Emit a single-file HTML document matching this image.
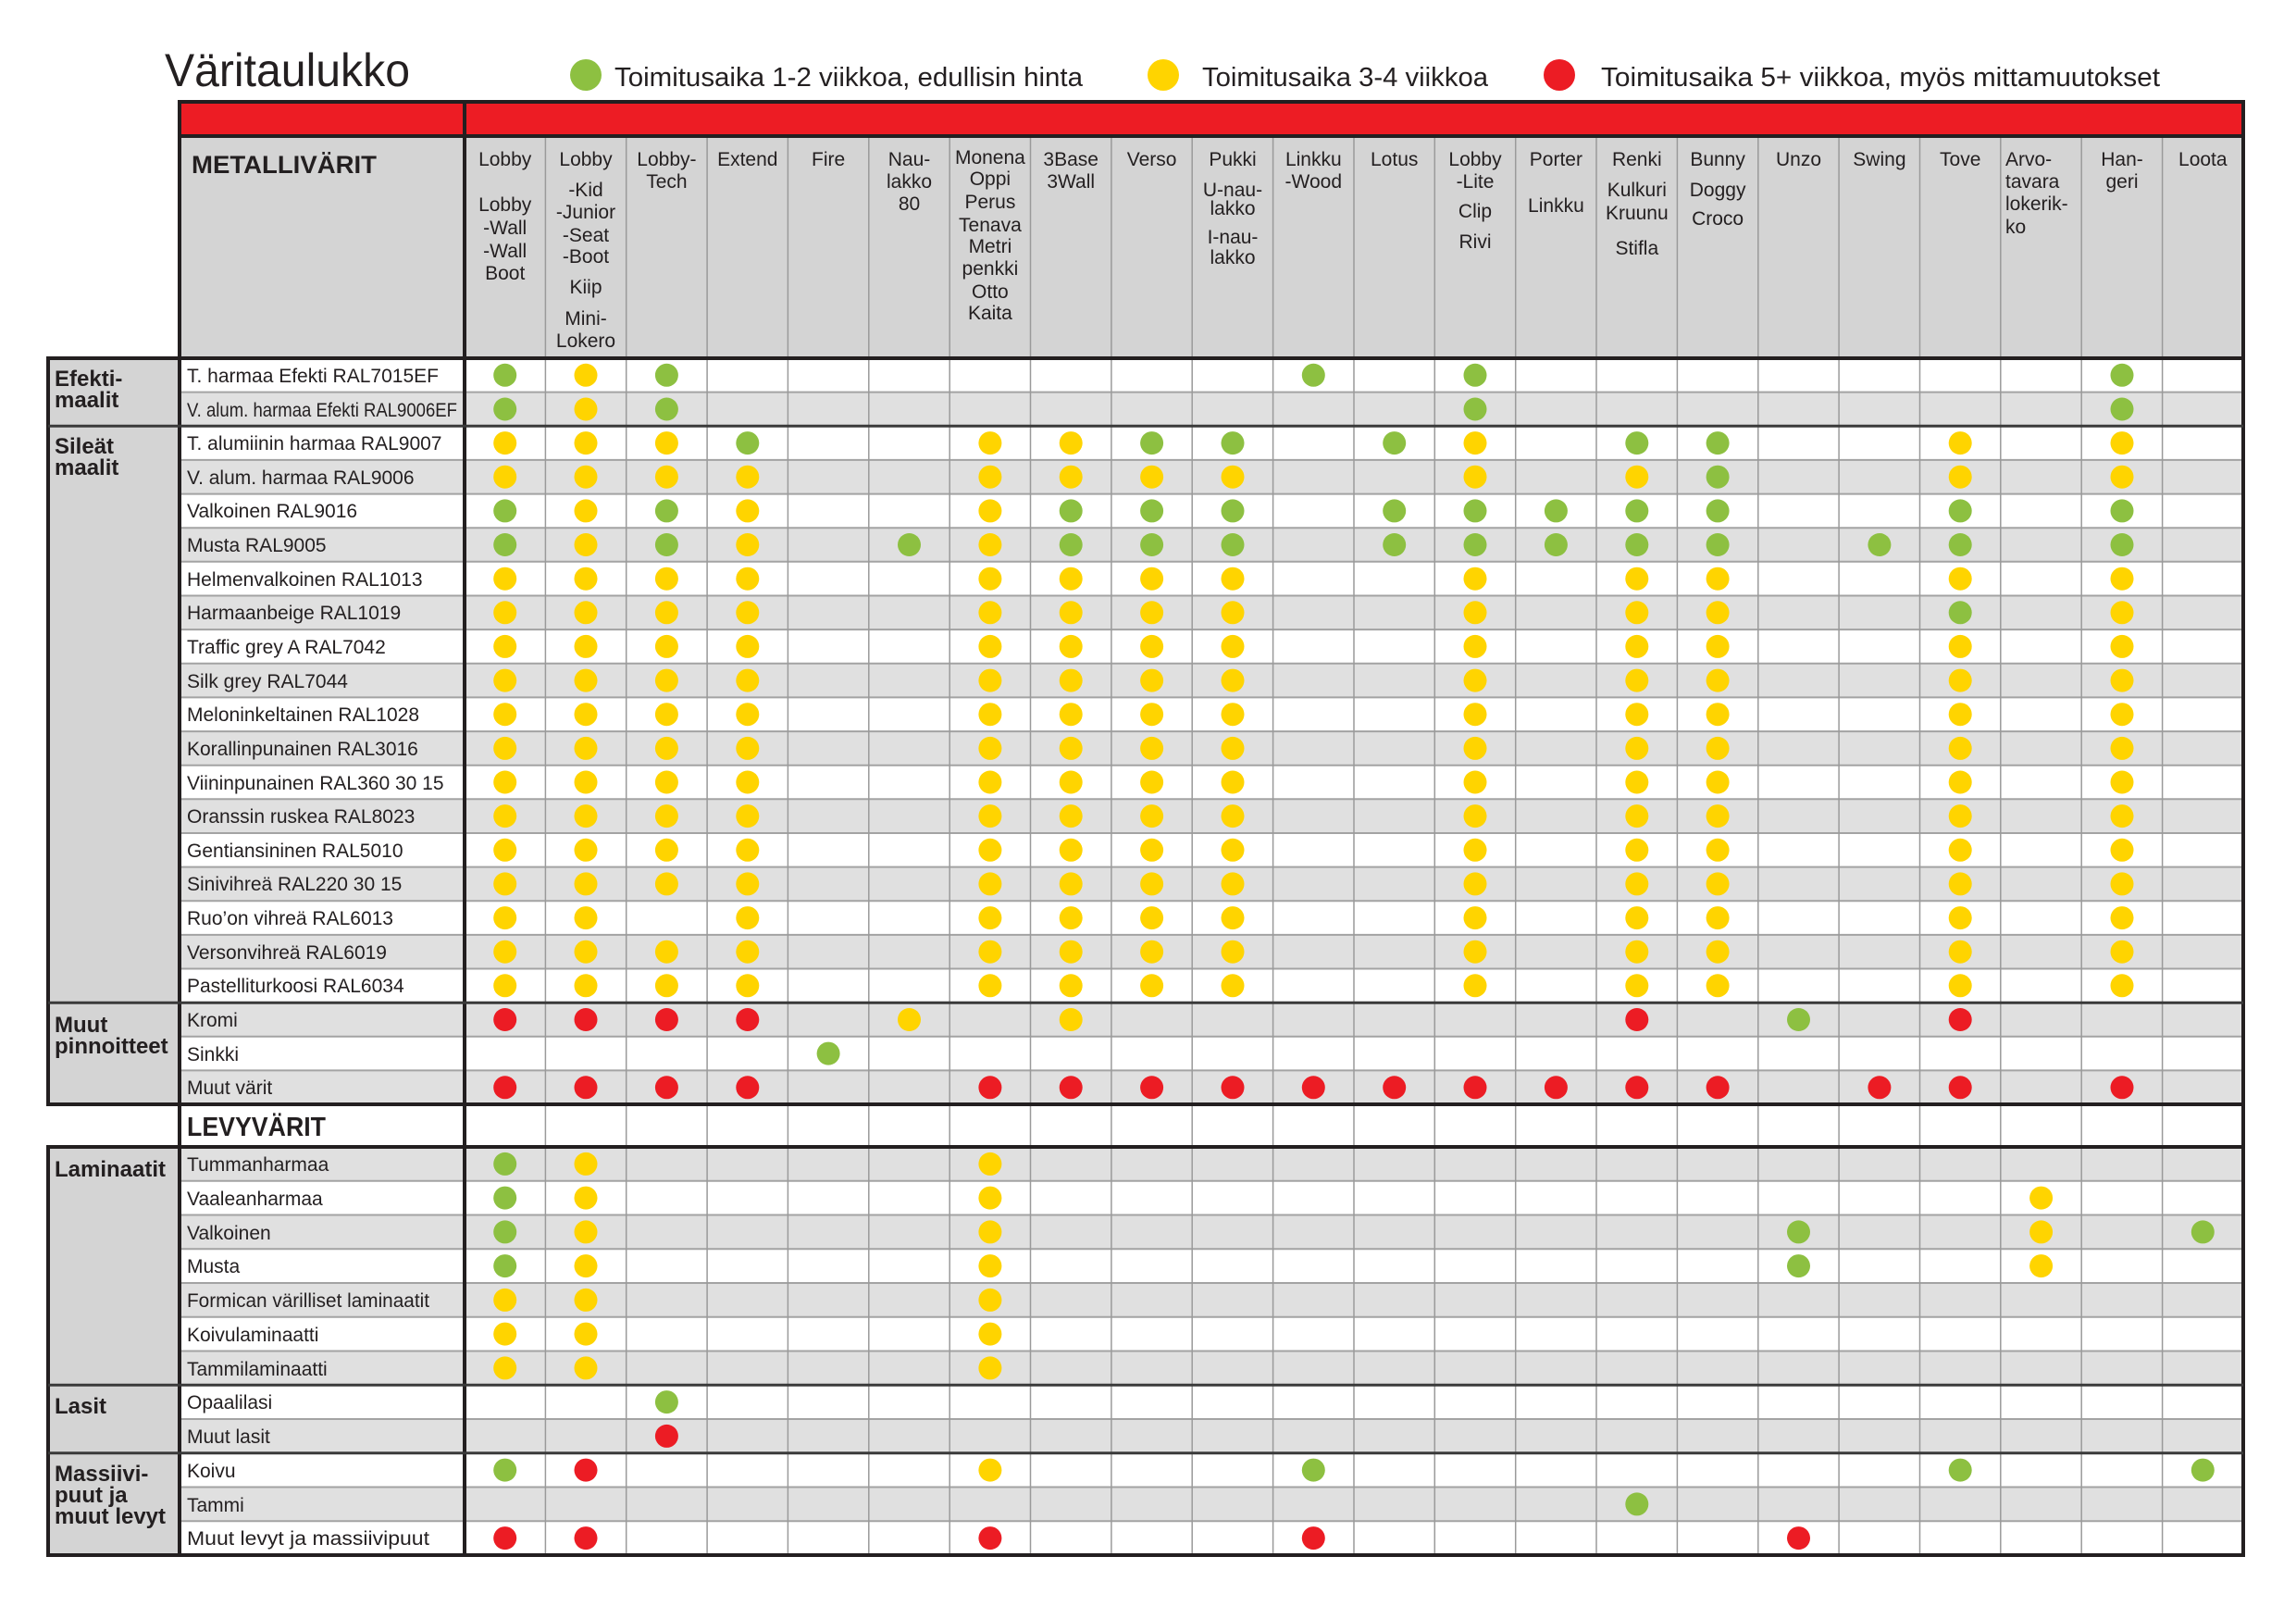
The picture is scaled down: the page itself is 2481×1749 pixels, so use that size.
<!DOCTYPE html>
<html><head><meta charset="utf-8"><style>
html,body{margin:0;padding:0;background:#fff}
svg{display:block}
text{font-family:"Liberation Sans",sans-serif;fill:#231f20}
.h{font-size:21px;text-anchor:middle}
.l{font-size:21px}
.c{font-size:24px;font-weight:bold}
</style></head><body>
<svg width="2481" height="1749" viewBox="0 0 2481 1749" xmlns="http://www.w3.org/2000/svg">
<defs>
<circle id="G" r="12.5" fill="#8dc041"/>
<circle id="Y" r="12.5" fill="#ffd400"/>
<circle id="R" r="12.5" fill="#ec1c24"/>
</defs>
<!-- title & legend -->
<text x="178" y="93" font-size="50" textLength="265" lengthAdjust="spacingAndGlyphs">Väritaulukko</text>
<circle cx="633" cy="81" r="17" fill="#8dc041"/>
<text x="664" y="93" font-size="29" textLength="506" lengthAdjust="spacingAndGlyphs">Toimitusaika 1-2 viikkoa, edullisin hinta</text>
<circle cx="1257" cy="81" r="17" fill="#ffd400"/>
<text x="1299" y="93" font-size="29" textLength="309" lengthAdjust="spacingAndGlyphs">Toimitusaika 3-4 viikkoa</text>
<circle cx="1685" cy="81" r="17" fill="#ec1c24"/>
<text x="1730" y="93" font-size="29" textLength="604" lengthAdjust="spacingAndGlyphs">Toimitusaika 5+ viikkoa, myös mittamuutokset</text>

<!-- red bar + header bg -->
<rect x="194" y="110" width="2230" height="37" fill="#ed1c24"/>
<rect x="194" y="147" width="2230" height="240" fill="#d4d4d4"/>
<!-- category column bg -->
<rect x="52" y="387" width="142" height="806" fill="#d4d4d4"/>
<rect x="52" y="1239" width="142" height="441" fill="#d4d4d4"/>
<!-- gray rows metal (odd k) -->
<g fill="#e0e0e0">
<rect x="194" y="423.6" width="2230" height="36.6"/>
<rect x="194" y="496.9" width="2230" height="36.6"/>
<rect x="194" y="570.2" width="2230" height="36.6"/>
<rect x="194" y="643.5" width="2230" height="36.6"/>
<rect x="194" y="716.8" width="2230" height="36.6"/>
<rect x="194" y="790.1" width="2230" height="36.6"/>
<rect x="194" y="863.3" width="2230" height="36.6"/>
<rect x="194" y="936.6" width="2230" height="36.6"/>
<rect x="194" y="1009.9" width="2230" height="36.6"/>
<rect x="194" y="1083.2" width="2230" height="36.6"/>
<rect x="194" y="1156.4" width="2230" height="36.6"/>
<!-- levy gray rows (even k) -->
<rect x="194" y="1239" width="2230" height="36.75"/>
<rect x="194" y="1312.5" width="2230" height="36.75"/>
<rect x="194" y="1386" width="2230" height="36.75"/>
<rect x="194" y="1459.5" width="2230" height="36.75"/>
<rect x="194" y="1533" width="2230" height="36.75"/>
<rect x="194" y="1606.5" width="2230" height="36.75"/>
</g>
<!-- horizontal thin lines -->
<g stroke="#a3a3a3" stroke-width="2">
<line x1="194" x2="2424" y1="423.6" y2="423.6"/>
<line x1="194" x2="2424" y1="496.9" y2="496.9"/>
<line x1="194" x2="2424" y1="533.6" y2="533.6"/>
<line x1="194" x2="2424" y1="570.2" y2="570.2"/>
<line x1="194" x2="2424" y1="606.8" y2="606.8"/>
<line x1="194" x2="2424" y1="643.5" y2="643.5"/>
<line x1="194" x2="2424" y1="680.1" y2="680.1"/>
<line x1="194" x2="2424" y1="716.8" y2="716.8"/>
<line x1="194" x2="2424" y1="753.4" y2="753.4"/>
<line x1="194" x2="2424" y1="790.1" y2="790.1"/>
<line x1="194" x2="2424" y1="826.7" y2="826.7"/>
<line x1="194" x2="2424" y1="863.3" y2="863.3"/>
<line x1="194" x2="2424" y1="900" y2="900"/>
<line x1="194" x2="2424" y1="936.6" y2="936.6"/>
<line x1="194" x2="2424" y1="973.3" y2="973.3"/>
<line x1="194" x2="2424" y1="1009.9" y2="1009.9"/>
<line x1="194" x2="2424" y1="1046.5" y2="1046.5"/>
<line x1="194" x2="2424" y1="1119.8" y2="1119.8"/>
<line x1="194" x2="2424" y1="1156.4" y2="1156.4"/>
<line x1="194" x2="2424" y1="1275.75" y2="1275.75"/>
<line x1="194" x2="2424" y1="1312.5" y2="1312.5"/>
<line x1="194" x2="2424" y1="1349.25" y2="1349.25"/>
<line x1="194" x2="2424" y1="1386" y2="1386"/>
<line x1="194" x2="2424" y1="1422.75" y2="1422.75"/>
<line x1="194" x2="2424" y1="1459.5" y2="1459.5"/>
<line x1="194" x2="2424" y1="1533" y2="1533"/>
<line x1="194" x2="2424" y1="1606.5" y2="1606.5"/>
<line x1="194" x2="2424" y1="1643.25" y2="1643.25"/>
</g>
<!-- vertical column lines -->
<g stroke="#9a9a9a" stroke-width="1.5">
<line x1="589.4" x2="589.4" y1="147" y2="1680"/>
<line x1="676.7" x2="676.7" y1="147" y2="1680"/>
<line x1="764.1" x2="764.1" y1="147" y2="1680"/>
<line x1="851.4" x2="851.4" y1="147" y2="1680"/>
<line x1="938.8" x2="938.8" y1="147" y2="1680"/>
<line x1="1026.2" x2="1026.2" y1="147" y2="1680"/>
<line x1="1113.5" x2="1113.5" y1="147" y2="1680"/>
<line x1="1200.9" x2="1200.9" y1="147" y2="1680"/>
<line x1="1288.2" x2="1288.2" y1="147" y2="1680"/>
<line x1="1375.6" x2="1375.6" y1="147" y2="1680"/>
<line x1="1463" x2="1463" y1="147" y2="1680"/>
<line x1="1550.3" x2="1550.3" y1="147" y2="1680"/>
<line x1="1637.7" x2="1637.7" y1="147" y2="1680"/>
<line x1="1725" x2="1725" y1="147" y2="1680"/>
<line x1="1812.4" x2="1812.4" y1="147" y2="1680"/>
<line x1="1899.8" x2="1899.8" y1="147" y2="1680"/>
<line x1="1987.1" x2="1987.1" y1="147" y2="1680"/>
<line x1="2074.5" x2="2074.5" y1="147" y2="1680"/>
<line x1="2161.8" x2="2161.8" y1="147" y2="1680"/>
<line x1="2249.2" x2="2249.2" y1="147" y2="1680"/>
<line x1="2336.6" x2="2336.6" y1="147" y2="1680"/>
</g>
<!-- thick lines -->
<g stroke="#231f20" stroke-width="4">
<line x1="192" x2="2426" y1="110" y2="110"/>
<line x1="192" x2="2426" y1="147" y2="147"/>
<line x1="50" x2="2426" y1="387" y2="387"/>
<line x1="50" x2="2426" y1="1193" y2="1193"/>
<line x1="50" x2="2426" y1="1239" y2="1239"/>
<line x1="50" x2="2426" y1="1680" y2="1680"/>
<line x1="52" x2="52" y1="387" y2="1193"/>
<line x1="52" x2="52" y1="1239" y2="1680"/>
<line x1="194" x2="194" y1="110" y2="1680"/>
<line x1="502" x2="502" y1="110" y2="1680"/>
<line x1="2424" x2="2424" y1="110" y2="1680"/>
</g>
<g stroke="#3a3a3a" stroke-width="3">
<line x1="52" x2="2424" y1="460.3" y2="460.3"/>
<line x1="52" x2="2424" y1="1083.2" y2="1083.2"/>
<line x1="52" x2="2424" y1="1496.25" y2="1496.25"/>
<line x1="52" x2="2424" y1="1569.75" y2="1569.75"/>
</g>

<!-- header texts -->
<text x="207" y="187" font-size="27" font-weight="bold" textLength="200" lengthAdjust="spacingAndGlyphs">METALLIVÄRIT</text>
<text x="202" y="1227" font-size="29" font-weight="bold" textLength="150" lengthAdjust="spacingAndGlyphs">LEVYVÄRIT</text>
<g class="hd">
<text class="h" x="545.7" y="179">Lobby</text>
<text class="h" x="545.7" y="228">Lobby</text>
<text class="h" x="545.7" y="253">-Wall</text>
<text class="h" x="545.7" y="278">-Wall</text>
<text class="h" x="545.7" y="302">Boot</text>
<text class="h" x="633" y="179">Lobby</text>
<text class="h" x="633" y="212">-Kid</text>
<text class="h" x="633" y="236">-Junior</text>
<text class="h" x="633" y="261">-Seat</text>
<text class="h" x="633" y="284">-Boot</text>
<text class="h" x="633" y="317">Kiip</text>
<text class="h" x="633" y="351">Mini-</text>
<text class="h" x="633" y="375">Lokero</text>
<text class="h" x="720.4" y="179">Lobby-</text>
<text class="h" x="720.4" y="203">Tech</text>
<text class="h" x="807.8" y="179">Extend</text>
<text class="h" x="895.1" y="179">Fire</text>
<text class="h" x="982.5" y="179">Nau-</text>
<text class="h" x="982.5" y="203">lakko</text>
<text class="h" x="982.5" y="227">80</text>
<text class="h" x="1069.9" y="177" font-size="20">Monena</text>
<text class="h" x="1069.9" y="200">Oppi</text>
<text class="h" x="1069.9" y="225">Perus</text>
<text class="h" x="1069.9" y="250">Tenava</text>
<text class="h" x="1069.9" y="273">Metri</text>
<text class="h" x="1069.9" y="297">penkki</text>
<text class="h" x="1069.9" y="322">Otto</text>
<text class="h" x="1069.9" y="345">Kaita</text>
<text class="h" x="1157.2" y="179">3Base</text>
<text class="h" x="1157.2" y="203">3Wall</text>
<text class="h" x="1244.6" y="179">Verso</text>
<text class="h" x="1332" y="179">Pukki</text>
<text class="h" x="1332" y="212">U-nau-</text>
<text class="h" x="1332" y="232">lakko</text>
<text class="h" x="1332" y="263">I-nau-</text>
<text class="h" x="1332" y="285">lakko</text>
<text class="h" x="1419.3" y="179">Linkku</text>
<text class="h" x="1419.3" y="203">-Wood</text>
<text class="h" x="1506.7" y="179">Lotus</text>
<text class="h" x="1594" y="179">Lobby</text>
<text class="h" x="1594" y="203">-Lite</text>
<text class="h" x="1594" y="235">Clip</text>
<text class="h" x="1594" y="268">Rivi</text>
<text class="h" x="1681.4" y="179">Porter</text>
<text class="h" x="1681.4" y="229">Linkku</text>
<text class="h" x="1768.8" y="179">Renki</text>
<text class="h" x="1768.8" y="212">Kulkuri</text>
<text class="h" x="1768.8" y="237">Kruunu</text>
<text class="h" x="1768.8" y="275">Stifla</text>
<text class="h" x="1856.1" y="179">Bunny</text>
<text class="h" x="1856.1" y="212">Doggy</text>
<text class="h" x="1856.1" y="243">Croco</text>
<text class="h" x="1943.5" y="179">Unzo</text>
<text class="h" x="2030.9" y="179">Swing</text>
<text class="h" x="2118.2" y="179">Tove</text>
<text class="l" x="2167" y="179">Arvo-</text>
<text class="l" x="2167" y="203">tavara</text>
<text class="l" x="2167" y="227">lokerik-</text>
<text class="l" x="2167" y="252">ko</text>
<text class="h" x="2293" y="179">Han-</text>
<text class="h" x="2293" y="203">geri</text>
<text class="h" x="2380.3" y="179">Loota</text>
</g>

<!-- category labels -->
<text class="c" x="59" y="417">Efekti-</text>
<text class="c" x="59" y="440">maalit</text>
<text class="c" x="59" y="490">Sileät</text>
<text class="c" x="59" y="513">maalit</text>
<text class="c" x="59" y="1115">Muut</text>
<text class="c" x="59" y="1138">pinnoitteet</text>
<text class="c" x="59" y="1271">Laminaatit</text>
<text class="c" x="59" y="1527">Lasit</text>
<text class="c" x="59" y="1600">Massiivi-</text>
<text class="c" x="59" y="1623">puut ja</text>
<text class="c" x="59" y="1646">muut levyt</text>

<!-- row labels -->
<text class="l" x="202" y="413">T. harmaa Efekti RAL7015EF</text>
<text class="l" x="202" y="450" textLength="292" lengthAdjust="spacingAndGlyphs">V. alum. harmaa Efekti RAL9006EF</text>
<text class="l" x="202" y="486">T. alumiinin harmaa RAL9007</text>
<text class="l" x="202" y="523">V. alum. harmaa RAL9006</text>
<text class="l" x="202" y="559">Valkoinen RAL9016</text>
<text class="l" x="202" y="596">Musta RAL9005</text>
<text class="l" x="202" y="633">Helmenvalkoinen RAL1013</text>
<text class="l" x="202" y="669">Harmaanbeige RAL1019</text>
<text class="l" x="202" y="706">Traffic grey A RAL7042</text>
<text class="l" x="202" y="743">Silk grey RAL7044</text>
<text class="l" x="202" y="779">Meloninkeltainen RAL1028</text>
<text class="l" x="202" y="816">Korallinpunainen RAL3016</text>
<text class="l" x="202" y="853">Viininpunainen RAL360 30 15</text>
<text class="l" x="202" y="889">Oranssin ruskea RAL8023</text>
<text class="l" x="202" y="926">Gentiansininen RAL5010</text>
<text class="l" x="202" y="962">Sinivihreä RAL220 30 15</text>
<text class="l" x="202" y="999">Ruo’on vihreä RAL6013</text>
<text class="l" x="202" y="1036">Versonvihreä RAL6019</text>
<text class="l" x="202" y="1072">Pastelliturkoosi RAL6034</text>
<text class="l" x="202" y="1109">Kromi</text>
<text class="l" x="202" y="1146">Sinkki</text>
<text class="l" x="202" y="1182">Muut värit</text>
<text class="l" x="202" y="1265">Tummanharmaa</text>
<text class="l" x="202" y="1302">Vaaleanharmaa</text>
<text class="l" x="202" y="1339">Valkoinen</text>
<text class="l" x="202" y="1375">Musta</text>
<text class="l" x="202" y="1412" textLength="262" lengthAdjust="spacingAndGlyphs">Formican värilliset laminaatit</text>
<text class="l" x="202" y="1449">Koivulaminaatti</text>
<text class="l" x="202" y="1486">Tammilaminaatti</text>
<text class="l" x="202" y="1522">Opaalilasi</text>
<text class="l" x="202" y="1559">Muut lasit</text>
<text class="l" x="202" y="1596">Koivu</text>
<text class="l" x="202" y="1633">Tammi</text>
<text class="l" x="202" y="1669" textLength="262" lengthAdjust="spacingAndGlyphs">Muut levyt ja massiivipuut</text>

<!-- dots -->
<g transform="translate(0,405.3)"><use href="#G" x="545.7"/><use href="#Y" x="633"/><use href="#G" x="720.4"/><use href="#G" x="1419.3"/><use href="#G" x="1594"/><use href="#G" x="2293"/></g>
<g transform="translate(0,442)"><use href="#G" x="545.7"/><use href="#Y" x="633"/><use href="#G" x="720.4"/><use href="#G" x="1594"/><use href="#G" x="2293"/></g>
<g transform="translate(0,478.6)"><use href="#Y" x="545.7"/><use href="#Y" x="633"/><use href="#Y" x="720.4"/><use href="#G" x="807.8"/><use href="#Y" x="1069.9"/><use href="#Y" x="1157.2"/><use href="#G" x="1244.6"/><use href="#G" x="1332"/><use href="#G" x="1506.7"/><use href="#Y" x="1594"/><use href="#G" x="1768.8"/><use href="#G" x="1856.1"/><use href="#Y" x="2118.2"/><use href="#Y" x="2293"/></g>
<g transform="translate(0,515.2)"><use href="#Y" x="545.7"/><use href="#Y" x="633"/><use href="#Y" x="720.4"/><use href="#Y" x="807.8"/><use href="#Y" x="1069.9"/><use href="#Y" x="1157.2"/><use href="#Y" x="1244.6"/><use href="#Y" x="1332"/><use href="#Y" x="1594"/><use href="#Y" x="1768.8"/><use href="#G" x="1856.1"/><use href="#Y" x="2118.2"/><use href="#Y" x="2293"/></g>
<g transform="translate(0,551.9)"><use href="#G" x="545.7"/><use href="#Y" x="633"/><use href="#G" x="720.4"/><use href="#Y" x="807.8"/><use href="#Y" x="1069.9"/><use href="#G" x="1157.2"/><use href="#G" x="1244.6"/><use href="#G" x="1332"/><use href="#G" x="1506.7"/><use href="#G" x="1594"/><use href="#G" x="1681.4"/><use href="#G" x="1768.8"/><use href="#G" x="1856.1"/><use href="#G" x="2118.2"/><use href="#G" x="2293"/></g>
<g transform="translate(0,588.5)"><use href="#G" x="545.7"/><use href="#Y" x="633"/><use href="#G" x="720.4"/><use href="#Y" x="807.8"/><use href="#G" x="982.5"/><use href="#Y" x="1069.9"/><use href="#G" x="1157.2"/><use href="#G" x="1244.6"/><use href="#G" x="1332"/><use href="#G" x="1506.7"/><use href="#G" x="1594"/><use href="#G" x="1681.4"/><use href="#G" x="1768.8"/><use href="#G" x="1856.1"/><use href="#G" x="2030.9"/><use href="#G" x="2118.2"/><use href="#G" x="2293"/></g>
<g transform="translate(0,625.2)"><use href="#Y" x="545.7"/><use href="#Y" x="633"/><use href="#Y" x="720.4"/><use href="#Y" x="807.8"/><use href="#Y" x="1069.9"/><use href="#Y" x="1157.2"/><use href="#Y" x="1244.6"/><use href="#Y" x="1332"/><use href="#Y" x="1594"/><use href="#Y" x="1768.8"/><use href="#Y" x="1856.1"/><use href="#Y" x="2118.2"/><use href="#Y" x="2293"/></g>
<g transform="translate(0,661.8)"><use href="#Y" x="545.7"/><use href="#Y" x="633"/><use href="#Y" x="720.4"/><use href="#Y" x="807.8"/><use href="#Y" x="1069.9"/><use href="#Y" x="1157.2"/><use href="#Y" x="1244.6"/><use href="#Y" x="1332"/><use href="#Y" x="1594"/><use href="#Y" x="1768.8"/><use href="#Y" x="1856.1"/><use href="#G" x="2118.2"/><use href="#Y" x="2293"/></g>
<g transform="translate(0,698.4)"><use href="#Y" x="545.7"/><use href="#Y" x="633"/><use href="#Y" x="720.4"/><use href="#Y" x="807.8"/><use href="#Y" x="1069.9"/><use href="#Y" x="1157.2"/><use href="#Y" x="1244.6"/><use href="#Y" x="1332"/><use href="#Y" x="1594"/><use href="#Y" x="1768.8"/><use href="#Y" x="1856.1"/><use href="#Y" x="2118.2"/><use href="#Y" x="2293"/></g>
<g transform="translate(0,735.1)"><use href="#Y" x="545.7"/><use href="#Y" x="633"/><use href="#Y" x="720.4"/><use href="#Y" x="807.8"/><use href="#Y" x="1069.9"/><use href="#Y" x="1157.2"/><use href="#Y" x="1244.6"/><use href="#Y" x="1332"/><use href="#Y" x="1594"/><use href="#Y" x="1768.8"/><use href="#Y" x="1856.1"/><use href="#Y" x="2118.2"/><use href="#Y" x="2293"/></g>
<g transform="translate(0,771.7)"><use href="#Y" x="545.7"/><use href="#Y" x="633"/><use href="#Y" x="720.4"/><use href="#Y" x="807.8"/><use href="#Y" x="1069.9"/><use href="#Y" x="1157.2"/><use href="#Y" x="1244.6"/><use href="#Y" x="1332"/><use href="#Y" x="1594"/><use href="#Y" x="1768.8"/><use href="#Y" x="1856.1"/><use href="#Y" x="2118.2"/><use href="#Y" x="2293"/></g>
<g transform="translate(0,808.4)"><use href="#Y" x="545.7"/><use href="#Y" x="633"/><use href="#Y" x="720.4"/><use href="#Y" x="807.8"/><use href="#Y" x="1069.9"/><use href="#Y" x="1157.2"/><use href="#Y" x="1244.6"/><use href="#Y" x="1332"/><use href="#Y" x="1594"/><use href="#Y" x="1768.8"/><use href="#Y" x="1856.1"/><use href="#Y" x="2118.2"/><use href="#Y" x="2293"/></g>
<g transform="translate(0,845)"><use href="#Y" x="545.7"/><use href="#Y" x="633"/><use href="#Y" x="720.4"/><use href="#Y" x="807.8"/><use href="#Y" x="1069.9"/><use href="#Y" x="1157.2"/><use href="#Y" x="1244.6"/><use href="#Y" x="1332"/><use href="#Y" x="1594"/><use href="#Y" x="1768.8"/><use href="#Y" x="1856.1"/><use href="#Y" x="2118.2"/><use href="#Y" x="2293"/></g>
<g transform="translate(0,881.6)"><use href="#Y" x="545.7"/><use href="#Y" x="633"/><use href="#Y" x="720.4"/><use href="#Y" x="807.8"/><use href="#Y" x="1069.9"/><use href="#Y" x="1157.2"/><use href="#Y" x="1244.6"/><use href="#Y" x="1332"/><use href="#Y" x="1594"/><use href="#Y" x="1768.8"/><use href="#Y" x="1856.1"/><use href="#Y" x="2118.2"/><use href="#Y" x="2293"/></g>
<g transform="translate(0,918.3)"><use href="#Y" x="545.7"/><use href="#Y" x="633"/><use href="#Y" x="720.4"/><use href="#Y" x="807.8"/><use href="#Y" x="1069.9"/><use href="#Y" x="1157.2"/><use href="#Y" x="1244.6"/><use href="#Y" x="1332"/><use href="#Y" x="1594"/><use href="#Y" x="1768.8"/><use href="#Y" x="1856.1"/><use href="#Y" x="2118.2"/><use href="#Y" x="2293"/></g>
<g transform="translate(0,954.9)"><use href="#Y" x="545.7"/><use href="#Y" x="633"/><use href="#Y" x="720.4"/><use href="#Y" x="807.8"/><use href="#Y" x="1069.9"/><use href="#Y" x="1157.2"/><use href="#Y" x="1244.6"/><use href="#Y" x="1332"/><use href="#Y" x="1594"/><use href="#Y" x="1768.8"/><use href="#Y" x="1856.1"/><use href="#Y" x="2118.2"/><use href="#Y" x="2293"/></g>
<g transform="translate(0,991.6)"><use href="#Y" x="545.7"/><use href="#Y" x="633"/><use href="#Y" x="807.8"/><use href="#Y" x="1069.9"/><use href="#Y" x="1157.2"/><use href="#Y" x="1244.6"/><use href="#Y" x="1332"/><use href="#Y" x="1594"/><use href="#Y" x="1768.8"/><use href="#Y" x="1856.1"/><use href="#Y" x="2118.2"/><use href="#Y" x="2293"/></g>
<g transform="translate(0,1028.2)"><use href="#Y" x="545.7"/><use href="#Y" x="633"/><use href="#Y" x="720.4"/><use href="#Y" x="807.8"/><use href="#Y" x="1069.9"/><use href="#Y" x="1157.2"/><use href="#Y" x="1244.6"/><use href="#Y" x="1332"/><use href="#Y" x="1594"/><use href="#Y" x="1768.8"/><use href="#Y" x="1856.1"/><use href="#Y" x="2118.2"/><use href="#Y" x="2293"/></g>
<g transform="translate(0,1064.8)"><use href="#Y" x="545.7"/><use href="#Y" x="633"/><use href="#Y" x="720.4"/><use href="#Y" x="807.8"/><use href="#Y" x="1069.9"/><use href="#Y" x="1157.2"/><use href="#Y" x="1244.6"/><use href="#Y" x="1332"/><use href="#Y" x="1594"/><use href="#Y" x="1768.8"/><use href="#Y" x="1856.1"/><use href="#Y" x="2118.2"/><use href="#Y" x="2293"/></g>
<g transform="translate(0,1101.5)"><use href="#R" x="545.7"/><use href="#R" x="633"/><use href="#R" x="720.4"/><use href="#R" x="807.8"/><use href="#Y" x="982.5"/><use href="#Y" x="1157.2"/><use href="#R" x="1768.8"/><use href="#G" x="1943.5"/><use href="#R" x="2118.2"/></g>
<g transform="translate(0,1138.1)"><use href="#G" x="895.1"/></g>
<g transform="translate(0,1174.8)"><use href="#R" x="545.7"/><use href="#R" x="633"/><use href="#R" x="720.4"/><use href="#R" x="807.8"/><use href="#R" x="1069.9"/><use href="#R" x="1157.2"/><use href="#R" x="1244.6"/><use href="#R" x="1332"/><use href="#R" x="1419.3"/><use href="#R" x="1506.7"/><use href="#R" x="1594"/><use href="#R" x="1681.4"/><use href="#R" x="1768.8"/><use href="#R" x="1856.1"/><use href="#R" x="2030.9"/><use href="#R" x="2118.2"/><use href="#R" x="2293"/></g>
<g transform="translate(0,1257.4)"><use href="#G" x="545.7"/><use href="#Y" x="633"/><use href="#Y" x="1069.9"/></g>
<g transform="translate(0,1294.1)"><use href="#G" x="545.7"/><use href="#Y" x="633"/><use href="#Y" x="1069.9"/><use href="#Y" x="2205.6"/></g>
<g transform="translate(0,1330.9)"><use href="#G" x="545.7"/><use href="#Y" x="633"/><use href="#Y" x="1069.9"/><use href="#G" x="1943.5"/><use href="#Y" x="2205.6"/><use href="#G" x="2380.3"/></g>
<g transform="translate(0,1367.6)"><use href="#G" x="545.7"/><use href="#Y" x="633"/><use href="#Y" x="1069.9"/><use href="#G" x="1943.5"/><use href="#Y" x="2205.6"/></g>
<g transform="translate(0,1404.4)"><use href="#Y" x="545.7"/><use href="#Y" x="633"/><use href="#Y" x="1069.9"/></g>
<g transform="translate(0,1441.1)"><use href="#Y" x="545.7"/><use href="#Y" x="633"/><use href="#Y" x="1069.9"/></g>
<g transform="translate(0,1477.9)"><use href="#Y" x="545.7"/><use href="#Y" x="633"/><use href="#Y" x="1069.9"/></g>
<g transform="translate(0,1514.6)"><use href="#G" x="720.4"/></g>
<g transform="translate(0,1551.4)"><use href="#R" x="720.4"/></g>
<g transform="translate(0,1588.1)"><use href="#G" x="545.7"/><use href="#R" x="633"/><use href="#Y" x="1069.9"/><use href="#G" x="1419.3"/><use href="#G" x="2118.2"/><use href="#G" x="2380.3"/></g>
<g transform="translate(0,1624.9)"><use href="#G" x="1768.8"/></g>
<g transform="translate(0,1661.6)"><use href="#R" x="545.7"/><use href="#R" x="633"/><use href="#R" x="1069.9"/><use href="#R" x="1419.3"/><use href="#R" x="1943.5"/></g>
</svg>
</body></html>
